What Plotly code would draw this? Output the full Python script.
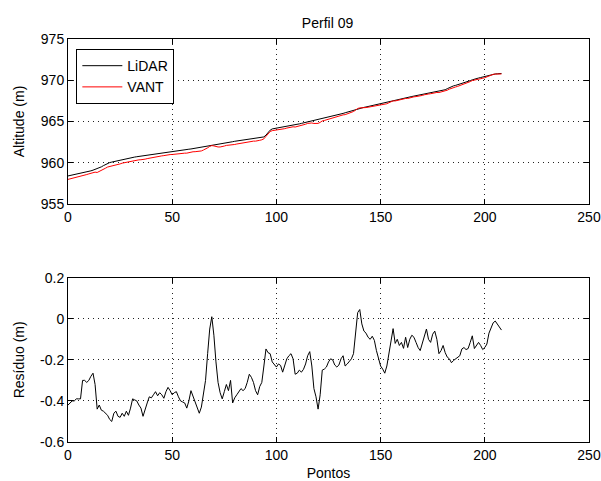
import plotly.graph_objects as go
from plotly.subplots import make_subplots

titulo = "Perfil 09"
serie_nomes = ["LiDAR", "VANT"]

lidar = [
    958.40, 958.45, 958.50, 958.55, 958.60, 958.65, 958.70, 958.76, 958.82,
    958.88, 958.95, 959.02, 959.10, 959.18, 959.26, 959.35,
    959.50, 959.65, 959.80, 959.95,
    960.02, 960.08, 960.14, 960.20, 960.27, 960.34, 960.41, 960.48,
    960.52, 960.57, 960.61, 960.65, 960.69, 960.73, 960.77,
    960.80, 960.84, 960.87, 960.91, 960.94, 960.98,
    961.02, 961.07, 961.11, 961.16, 961.20, 961.25,
    961.28, 961.31, 961.34, 961.37, 961.40, 961.44, 961.47, 961.50,
    961.53, 961.57, 961.60, 961.64, 961.67, 961.71, 961.74, 961.78,
    961.82, 961.86, 961.90, 961.94, 961.98, 962.03, 962.07,
    962.12, 962.17, 962.22, 962.27, 962.32, 962.38,
    962.42, 962.46, 962.51, 962.55, 962.60, 962.64, 962.68,
    962.71, 962.75, 962.78, 962.82, 962.85, 962.89,
    962.93, 962.97, 963.01, 963.05, 963.09, 963.13,
    963.35, 963.65, 963.95, 964.10,
    964.14, 964.18, 964.22, 964.26, 964.30, 964.35,
    964.40, 964.45, 964.50, 964.55, 964.60, 964.65,
    964.71, 964.77, 964.83, 964.89, 964.95,
    965.00, 965.05, 965.10, 965.16, 965.21, 965.26, 965.32, 965.37,
    965.44, 965.50, 965.57, 965.63, 965.70, 965.77, 965.83, 965.90,
    965.98, 966.06, 966.14, 966.22, 966.30, 966.38, 966.46, 966.55,
    966.60, 966.66, 966.71, 966.76, 966.82, 966.87,
    966.94, 967.01, 967.08, 967.15,
    967.21, 967.27, 967.33, 967.38, 967.44, 967.50,
    967.55, 967.61, 967.66, 967.72, 967.77, 967.82, 967.88, 967.93,
    967.98, 968.03, 968.08, 968.13, 968.18, 968.23, 968.28, 968.33,
    968.38, 968.43, 968.48, 968.52, 968.57, 968.62,
    968.68, 968.73, 968.79, 968.85,
    968.98, 969.12, 969.25,
    969.32, 969.38, 969.45, 969.52, 969.58, 969.65,
    969.75, 969.85, 969.95, 970.05, 970.15,
    970.21, 970.27, 970.33, 970.39, 970.45,
    970.53, 970.62, 970.70,
    970.73, 970.76, 970.78, 970.80, 970.82,
]

residuo = [
    -0.42, -0.41, -0.40, -0.40, -0.39, -0.39, -0.39, -0.30, -0.30, -0.31,
    -0.30, -0.28, -0.265, -0.32, -0.44, -0.42, -0.445, -0.45, -0.46, -0.47,
    -0.49, -0.50, -0.46, -0.45, -0.475, -0.48, -0.46, -0.475, -0.45, -0.47,
    -0.435, -0.39, -0.395, -0.40, -0.42, -0.435, -0.475, -0.435, -0.41, -0.38,
    -0.385, -0.37, -0.355, -0.375, -0.36, -0.37, -0.387, -0.355, -0.334, -0.35,
    -0.37, -0.36, -0.355, -0.38, -0.40, -0.405, -0.41, -0.435, -0.40, -0.35,
    -0.38, -0.40, -0.44, -0.46, -0.43, -0.355, -0.30, -0.17, -0.05, 0.01,
    -0.08, -0.21, -0.31, -0.36, -0.39, -0.355, -0.32, -0.35, -0.30, -0.41,
    -0.385, -0.37, -0.355, -0.34, -0.35, -0.34, -0.31, -0.27, -0.285, -0.31,
    -0.35, -0.37, -0.33, -0.31, -0.23, -0.147, -0.165, -0.17, -0.21, -0.22,
    -0.235, -0.22, -0.227, -0.26, -0.22, -0.195, -0.18, -0.17, -0.195, -0.27,
    -0.265, -0.25, -0.26, -0.246, -0.22, -0.18, -0.16, -0.23, -0.34, -0.38,
    -0.44, -0.37, -0.25, -0.245, -0.235, -0.21, -0.195, -0.20, -0.225, -0.235,
    -0.225, -0.195, -0.18, -0.23, -0.22, -0.208, -0.195, -0.17, -0.08, 0.03,
    0.045, -0.025, -0.06, -0.07, -0.09, -0.10, -0.085, -0.105, -0.155, -0.19,
    -0.23, -0.245, -0.265, -0.23, -0.165, -0.09, -0.048, -0.12, -0.10, -0.13,
    -0.115, -0.144, -0.09, -0.14, -0.10, -0.08, -0.09, -0.115, -0.14, -0.155,
    -0.123, -0.09, -0.05, -0.10, -0.115, -0.075, -0.06, -0.10, -0.17, -0.155,
    -0.13, -0.165, -0.187, -0.195, -0.214, -0.203, -0.195, -0.19, -0.18, -0.147,
    -0.14, -0.15, -0.145, -0.115, -0.083, -0.145, -0.13, -0.115, -0.13, -0.15,
    -0.14, -0.123, -0.07, -0.045, -0.02, -0.011, -0.027, -0.043, -0.055,
]

# VANT altitude = LiDAR altitude + residual (residual = VANT - LiDAR)
vant = [round(a + r, 3) for a, r in zip(lidar, residuo)]
pontos = list(range(len(residuo)))

x_ticks = [0, 50, 100, 150, 200, 250]
alt_ticks = [955, 960, 965, 970, 975]
res_ticks = [-0.6, -0.4, -0.2, 0, 0.2]
res_ticklabels = ["-0.6", "-0.4", "-0.2", "0", "0.2"]

FONT = "Liberation Sans, Arial, sans-serif"

fig = make_subplots(rows=2, cols=1, vertical_spacing=0.0)

fig.add_trace(go.Scatter(x=pontos, y=lidar, mode="lines", name=serie_nomes[0],
                         line=dict(color="#000000", width=1)), row=1, col=1)
fig.add_trace(go.Scatter(x=pontos, y=vant, mode="lines", name=serie_nomes[1],
                         line=dict(color="#ff0000", width=1)), row=1, col=1)
fig.add_trace(go.Scatter(x=pontos, y=residuo, mode="lines", showlegend=False,
                         line=dict(color="#000000", width=1)), row=2, col=1)

axis_common = dict(
    showline=True, linecolor="#000000", linewidth=1, mirror="ticks",
    ticks="inside", ticklen=5, tickcolor="#000000",
    showgrid=True, gridcolor="#222222", griddash="1px,4px", gridwidth=1,
    zeroline=False, automargin=False,
    tickfont=dict(family=FONT, size=14, color="#000000"),
)

fig.update_layout(
    width=601, height=481,
    margin=dict(l=68, r=12, t=39, b=39),
    paper_bgcolor="#ffffff", plot_bgcolor="#ffffff",
    font=dict(family=FONT, size=14, color="#000000"),
    title=dict(text=titulo, x=0.545, xanchor="center", y=0.952, yanchor="middle",
               font=dict(family=FONT, size=14, color="#000000")),
    legend=dict(x=0.016, y=0.975, xanchor="left", yanchor="top",
                bgcolor="#ffffff", bordercolor="#000000", borderwidth=1,
                font=dict(family=FONT, size=14, color="#000000"),
                tracegroupgap=0, itemwidth=40),
    showlegend=True,
)

fig.update_xaxes(**axis_common)
fig.update_yaxes(**axis_common)

fig.update_layout(
    xaxis=dict(domain=[0, 1], range=[0, 250], tickvals=x_ticks),
    yaxis=dict(domain=[0.5906, 1.0], range=[955, 975], tickvals=alt_ticks,
               title=dict(text="Altitude (m)", standoff=12,
                          font=dict(family=FONT, size=14, color="#000000"))),
    xaxis2=dict(domain=[0, 1], range=[0, 250], tickvals=x_ticks,
                title=dict(text="Pontos", standoff=10,
                           font=dict(family=FONT, size=14, color="#000000"))),
    yaxis2=dict(domain=[0.0, 0.4077], range=[-0.6, 0.2], tickvals=res_ticks,
                ticktext=res_ticklabels,
                title=dict(text="Resíduo (m)", standoff=12,
                           font=dict(family=FONT, size=14, color="#000000"))),
)

fig.write_html(
    "out.html",
    config={"displayModeBar": False},
    post_script="document.body.style.margin='0';document.body.style.overflow='hidden';",
)
